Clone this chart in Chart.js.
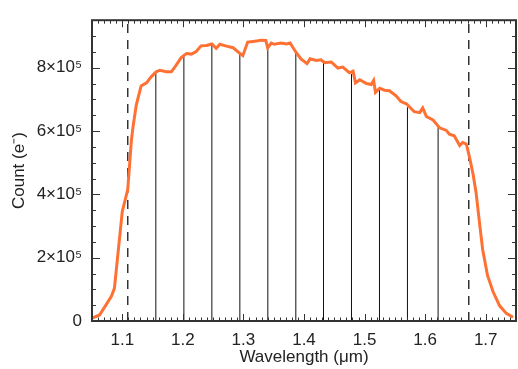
<!DOCTYPE html>
<html>
<head>
<meta charset="utf-8">
<script src="https://cdn.jsdelivr.net/npm/chart.js@4"></script>
<style>
  body { margin: 0; background: #fff; }
  #wrap { width: 518px; height: 369px; }
</style>
</head>
<body>
<div id="wrap"><canvas id="countChart"></canvas></div>
<script>
// spectrum: wavelength (um) and counts (e-)
const wavelength = [
  1.050, 1.0625, 1.082, 1.087, 1.093, 1.100, 1.109, 1.115, 1.1175, 1.123,
  1.131, 1.140, 1.148, 1.156, 1.162, 1.173, 1.181, 1.189, 1.197, 1.206,
  1.214, 1.222, 1.230, 1.239, 1.248, 1.255, 1.261, 1.272, 1.283, 1.294,
  1.299, 1.307, 1.316, 1.324, 1.329, 1.337, 1.340, 1.346, 1.351, 1.362,
  1.371, 1.377, 1.382, 1.387, 1.395, 1.405, 1.410, 1.420, 1.428, 1.434,
  1.445, 1.456, 1.464, 1.475, 1.481, 1.485, 1.492, 1.503, 1.511, 1.515,
  1.518, 1.525, 1.533, 1.541, 1.552, 1.560, 1.569, 1.582, 1.591, 1.596,
  1.602, 1.613, 1.624, 1.635, 1.640, 1.648, 1.657, 1.662, 1.668, 1.673,
  1.679, 1.684, 1.690, 1.695, 1.703, 1.712, 1.723, 1.734, 1.745
];
const counts = [
  9000, 19000, 78000, 103000, 215000, 346000, 415000, 570000, 610000, 681000,
  742000, 752000, 772000, 787000, 792000, 787000, 787000, 808000, 831000, 845000,
  843000, 851000, 869000, 870000, 875000, 861000, 874000, 868000, 863000, 845000,
  838000, 881000, 883000, 885000, 887000, 886000, 863000, 878000, 874000, 878000,
  875000, 878000, 863000, 848000, 828000, 813000, 828000, 823000, 825000, 816000,
  818000, 799000, 802000, 784000, 789000, 752000, 762000, 750000, 747000, 760000,
  722000, 735000, 729000, 727000, 711000, 693000, 686000, 661000, 658000, 673000,
  646000, 635000, 610000, 602000, 590000, 585000, 554000, 564000, 559000, 519000,
  465000, 407000, 306000, 225000, 144000, 93000, 48000, 24000, 12000
];

// spectral bin boundaries (solid drop lines) and their heights
const binEdges = [1.1554, 1.2017, 1.2479, 1.2941, 1.3403, 1.3865, 1.4322, 1.4784, 1.5246, 1.5708, 1.6214];
const binTops = [785000, 842000, 875000, 843000, 860000, 848000, 815000, 780000, 735000, 675000, 612000];

// extraction window (dashed lines)
const windowEdges = [1.109, 1.672];

const xMin = 1.05, xMax = 1.75;
const yMin = 0, yMax = 950000;
const xTickValues = [1.1, 1.2, 1.3, 1.4, 1.5, 1.6, 1.7];
const yTickValues = [0, 200000, 400000, 600000, 800000];
const yTickLabels = ['0', '2×10⁵', '4×10⁵', '6×10⁵', '8×10⁵'];

const curveData = wavelength.map((w, i) => ({ x: w, y: counts[i] }));

const dropData = [];
binEdges.forEach((w, i) => {
  dropData.push({ x: w, y: 0 }, { x: w, y: binTops[i] }, { x: w, y: null });
});

const windowData = [];
windowEdges.forEach(w => {
  windowData.push({ x: w, y: yMin }, { x: w, y: yMax }, { x: w, y: null });
});

// box round the plot with inward ticks on all four sides
const boxPlugin = {
  id: 'box',
  afterDraw(chart) {
    const { ctx, chartArea: a, scales: { x, y } } = chart;
    ctx.save();
    ctx.strokeStyle = '#333';
    ctx.lineWidth = 1;
    ctx.beginPath();
    for (let i = 0; i <= 70; i++) {
      const v = 1.05 + i * 0.01;
      const px = Math.round(x.getPixelForValue(v)) + 0.5;
      const len = Math.round(v * 100) % 10 === 0 ? 7 : 3.5;
      ctx.moveTo(px, a.bottom); ctx.lineTo(px, a.bottom - len);
      ctx.moveTo(px, a.top); ctx.lineTo(px, a.top + len);
    }
    for (let i = 0; i <= 19; i++) {
      const v = i * 50000;
      const py = Math.round(y.getPixelForValue(v)) + 0.5;
      const len = v % 200000 === 0 ? 8 : 4;
      ctx.moveTo(a.left, py); ctx.lineTo(a.left + len, py);
      ctx.moveTo(a.right, py); ctx.lineTo(a.right - len, py);
    }
    ctx.stroke();
    ctx.lineWidth = 2;
    ctx.strokeRect(a.left, a.top, a.right - a.left, a.bottom - a.top);
    ctx.restore();
  }
};

Chart.defaults.font.family = '"Liberation Sans", Arial, sans-serif';
Chart.defaults.font.size = 17;
Chart.defaults.color = '#222';

new Chart(document.getElementById('countChart'), {
  type: 'line',
  data: {
    datasets: [
      {
        label: 'Count',
        data: curveData,
        borderColor: '#ff7033',
        borderWidth: 3,
        pointRadius: 0,
        order: 1
      },
      {
        label: 'Bins',
        data: dropData,
        borderColor: '#111',
        borderWidth: 1,
        pointRadius: 0,
        spanGaps: false,
        order: 2
      },
      {
        label: 'Window',
        data: windowData,
        borderColor: '#333',
        borderWidth: 1.5,
        borderDash: [9, 7],
        pointRadius: 0,
        spanGaps: false,
        order: 3
      }
    ]
  },
  options: {
    responsive: true,
    maintainAspectRatio: false,
    animation: false,
    layout: { padding: { top: 8, right: 2, left: 0, bottom: 0 } },
    plugins: { legend: { display: false }, tooltip: { enabled: false } },
    scales: {
      x: {
        type: 'linear',
        min: xMin,
        max: xMax,
        afterBuildTicks: s => { s.ticks = xTickValues.map(v => ({ value: v })); },
        afterFit: s => { s.height = 48; },
        ticks: { padding: 9, callback: v => v.toFixed(1) },
        grid: { display: false, drawTicks: false },
        border: { display: false },
        title: { display: true, text: 'Wavelength (μm)', padding: { top: 0, bottom: 1 } }
      },
      y: {
        type: 'linear',
        min: yMin,
        max: yMax,
        afterBuildTicks: s => { s.ticks = yTickValues.map(v => ({ value: v })); },
        afterFit: s => { s.width = 92; },
        ticks: { padding: 10, callback: v => yTickLabels[yTickValues.indexOf(v)] },
        grid: { display: false, drawTicks: false },
        border: { display: false },
        title: { display: true, text: 'Count (e⁻)', padding: { top: 9, bottom: 0 } }
      }
    }
  },
  plugins: [boxPlugin]
});
</script>
</body>
</html>
